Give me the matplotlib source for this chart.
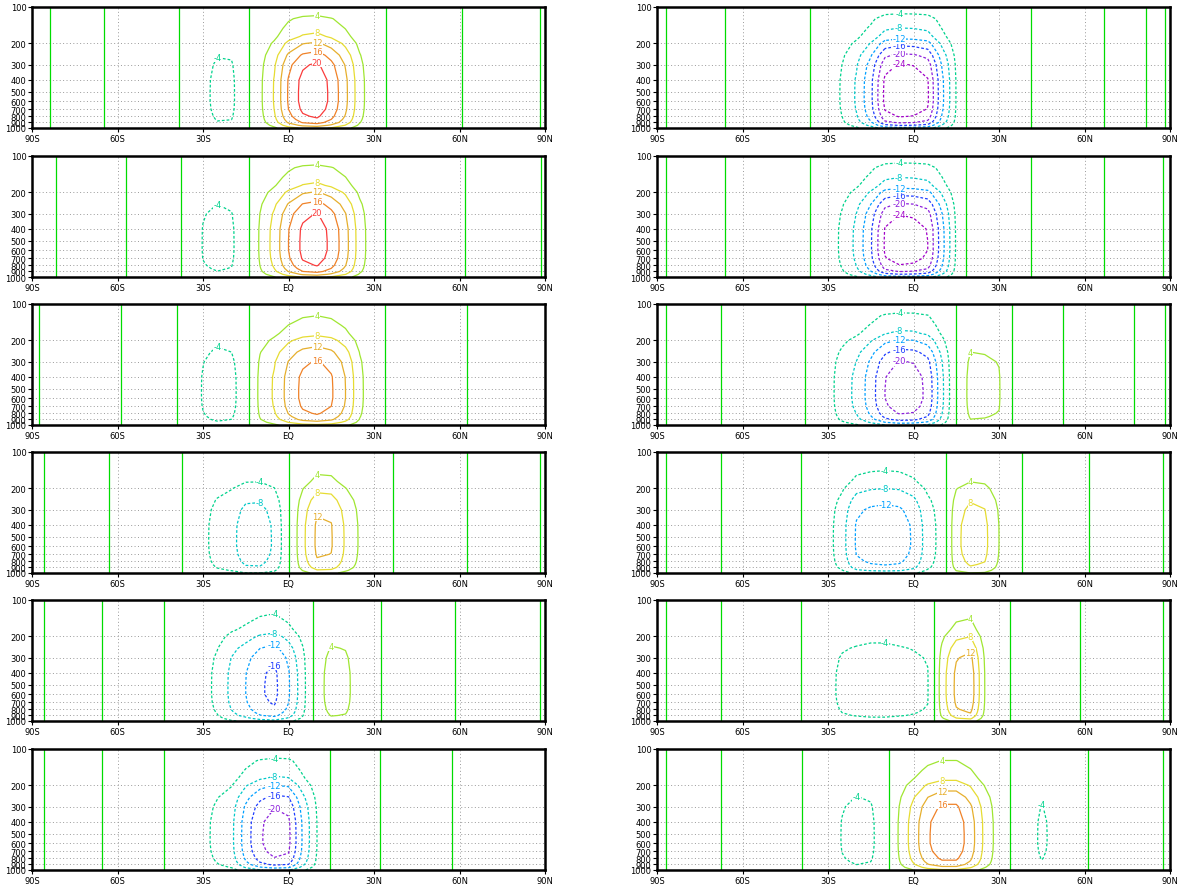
import numpy as np
import matplotlib
matplotlib.use("Agg")
import matplotlib.pyplot as plt

# ---------------- data ----------------
lats = np.arange(-90, 91, 5)
plev = [100, 125, 150, 175, 200, 250, 300, 400, 500, 600, 700, 800, 850, 900, 950, 1000]
vshape = [0.06, 0.22, 0.30, 0.39, 0.55, 0.77, 0.90, 0.99, 1.0, 1.0, 0.97, 0.90, 0.84, 0.76, 0.60, 0.40]

L1 = [0.5, 0.1, -0.3, -0.5, -0.6, -0.05, 0.6, 0.9, 1.0, 0.9, 0.5, -1.0, -3.0, -5.0, -4.8, -1.0, 3.2, 8.3,
      16.5, 21.5, 23.0, 19.0, 13.0, 5.5, 1.0, -0.2, -0.6, -1.0, -0.9, -0.5, -0.1, 0.4, 0.7, 0.8, 0.7, 0.4, -0.2]
L2 = [0.4, 0.2, -0.1, -0.5, -0.8, -0.7, -0.3, 0.2, 0.8, 0.9, 0.6, -0.8, -4.2, -5.2, -4.6, -1.2, 4.5, 9.5,
      16.0, 21.0, 22.5, 19.0, 13.5, 6.0, 1.2, -0.3, -0.8, -1.0, -1.0, -0.6, -0.2, 0.3, 0.7, 0.8, 0.6, 0.3, -0.1]
L3 = [0.2, -0.2, -0.5, -0.6, -0.6, -0.4, -0.1, 0.3, 0.6, 0.6, 0.3, -1.5, -4.3, -6.0, -5.2, -1.5, 5.0, 8.5,
      13.5, 17.0, 18.2, 16.5, 12.0, 5.0, 1.0, -0.3, -0.8, -0.9, -0.8, -0.5, -0.2, 0.2, 0.6, 0.7, 0.6, 0.3, 0.1]
L4 = [0.3, -0.05, -0.4, -0.5, -0.5, -0.2, 0.3, 0.5, 0.6, 0.5, 0.3, -0.3, -3.0, -5.5, -7.0, -9.8, -10.0, -7.5,
      -0.5, 7.0, 12.8, 12.3, 7.5, 3.5, 0.8, 0.2, -0.4, -0.7, -0.8, -0.6, -0.2, 0.2, 0.5, 0.5, 0.3, 0.2, -0.1]
L5 = [0.3, -0.05, -0.3, -0.5, -0.5, 0.05, 0.4, 0.5, 0.5, 0.1, -0.3, -1.0, -2.5, -5.0, -9.0, -12.0, -15.5, -17.0,
      -12.5, -5.5, 2.5, 5.5, 5.0, 2.0, 0.3, -0.3, -0.5, -0.5, -0.5, -0.2, 0.1, 0.4, 0.5, 0.5, 0.4, 0.2, -0.1]
L6 = [0.3, -0.05, -0.3, -0.5, -0.5, 0.05, 0.4, 0.6, 0.6, 0.1, -0.3, -1.2, -3.0, -5.0, -7.0, -14.0, -19.5, -22.0,
      -21.0, -11.5, -4.0, 0.3, 1.0, 0.6, 0.2, -0.3, -0.6, -0.5, -0.4, -0.1, 0.1, 0.3, 0.4, 0.4, 0.4, 0.2, 0.1]
R1 = [0.3, -0.2, -0.5, -0.5, -0.3, 0.1, 0.4, 0.6, 0.6, 0.5, 0.3, -0.1, -1.5, -4.5, -8.5, -15.0, -25.0, -27.0,
      -26.5, -24.5, -13.0, -3.8, 1.5, 1.0, 0.8, 0.5, 0.1, -0.3, -0.5, -0.5, -0.4, -0.1, 0.2, 0.3, 0.1, -0.2, 0.1]
R2 = [0.3, -0.2, -0.5, -0.5, -0.3, 0.1, 0.4, 0.6, 0.6, 0.5, 0.3, -0.1, -1.8, -4.8, -9.0, -15.5, -24.5, -26.5,
      -26.0, -24.0, -13.5, -3.5, 1.5, 1.0, 0.8, 0.5, 0.1, -0.3, -0.6, -0.6, -0.4, -0.1, 0.2, 0.3, 0.3, 0.1, -0.1]
R3 = [0.3, -0.2, -0.5, -0.5, -0.2, 0.2, 0.4, 0.6, 0.5, 0.4, 0.2, -0.3, -2.5, -6.0, -9.0, -14.0, -20.0, -22.5,
      -22.0, -19.0, -9.0, 0.5, 5.2, 5.0, 4.3, -0.5, -0.6, -0.4, -0.2, 0.2, 0.4, 0.3, 0.2, 0.1, -0.1, -0.2, 0.1]
R4 = [0.3, -0.2, -0.5, -0.5, -0.2, 0.2, 0.4, 0.5, 0.4, 0.3, 0.1, -0.8, -2.5, -6.5, -12.5, -14.0, -14.5, -14.0,
      -11.5, -6.0, -2.5, 7.0, 10.0, 9.0, 4.0, 0.5, -0.3, -0.5, -0.5, -0.4, -0.1, 0.2, 0.4, 0.4, 0.3, 0.1, -0.1]
R5 = [0.3, -0.2, -0.5, -0.5, -0.2, 0.2, 0.4, 0.5, 0.4, 0.3, 0.1, -1.0, -3.0, -4.8, -5.5, -6.0, -6.0, -5.5,
      -5.0, -4.2, 6.0, 13.0, 14.5, 4.0, 0.8, -0.2, -0.5, -0.5, -0.4, -0.2, 0.1, 0.3, 0.4, 0.3, 0.2, 0.1, -0.1]
R6 = [0.3, -0.2, -0.5, -0.5, -0.2, 0.2, 0.4, 0.5, 0.4, 0.3, 0.1, -0.5, -2.0, -4.2, -5.3, -4.8, -1.5, 4.5,
      10.0, 15.5, 18.5, 18.5, 14.0, 7.0, 2.0, -0.5, -2.5, -4.6, -3.0, -1.0, -0.1, 0.3, 0.4, 0.3, 0.2, 0.1, -0.1]

left_panels = [L1, L2, L3, L4, L5, L6]
right_panels = [R1, R2, R3, R4, R5, R6]

levels = [-28, -24, -20, -16, -12, -8, -4, 0, 4, 8, 12, 16, 20, 24]
level_colors = ['#a000c8', '#a000c8', '#8c1edc', '#1e3cff', '#00a0ff', '#00c8c8', '#00d28c', '#00dc00',
                '#a0e632', '#e6dc32', '#e6af2d', '#f08228', '#fa3c3c', '#f00082']
xtick_vals = [-90, -60, -30, 0, 30, 60, 90]
xtick_labels = ['90S', '60S', '30S', 'EQ', '30N', '60N', '90N']
ytick_vals = [100, 200, 300, 400, 500, 600, 700, 800, 900, 1000]
ytick_labels = [str(v) for v in ytick_vals]

# ---------------- figure ----------------
W, H = 1182, 887
fig = plt.figure(figsize=(W / 100, H / 100), dpi=100)
fig.patch.set_facecolor('white')

col_x = [32, 657]
col_w = 513
row_top = [8, 157, 305, 453, 601, 750]
row_h = 121

vs = np.array(vshape)
color_of = dict(zip(levels, level_colors))


def draw(ax, prof):
    field = np.outer(vs, np.array(prof))
    styles = [(0, (2.2, 1.6)) if lv < 0 else 'solid' for lv in levels]
    cs = ax.contour(lats, plev, field, levels=levels, colors=level_colors,
                    linewidths=0.9, linestyles=styles)
    # label at the top-most point of each non-zero contour (GrADS style)
    for lv, segs in zip(cs.levels, cs.allsegs):
        if lv == 0:
            continue
        for seg in segs:
            if len(seg) < 8:
                continue
            i = np.argmin(seg[:, 1])
            ax.text(seg[i, 0], seg[i, 1], '%d' % lv, color=color_of[lv], fontsize=6,
                    ha='center', va='center', zorder=5,
                    bbox=dict(facecolor='white', edgecolor='none', pad=0.2))
    ax.set_yscale('log')
    ax.set_ylim(1000, 100)
    ax.set_xlim(-90, 90)
    ax.set_yticks(ytick_vals)
    ax.set_yticklabels(ytick_labels)
    ax.yaxis.set_minor_locator(matplotlib.ticker.NullLocator())
    ax.set_xticks(xtick_vals)
    ax.set_xticklabels(xtick_labels)
    ax.tick_params(axis='both', labelsize=6, length=3, width=0.8, pad=1, direction='out')
    ax.grid(True, linestyle=(0, (1, 2.5)), color='#9a9a9a', linewidth=0.7)
    for s in ax.spines.values():
        s.set_linewidth(1.8)
        s.set_zorder(6)


for c, panels in enumerate([left_panels, right_panels]):
    for r, prof in enumerate(panels):
        x0 = col_x[c] / W
        y0 = 1 - (row_top[r] + row_h) / H
        ax = fig.add_axes([x0, y0, col_w / W, row_h / H])
        draw(ax, prof)

fig.savefig('out.png', dpi=100, facecolor='white')
